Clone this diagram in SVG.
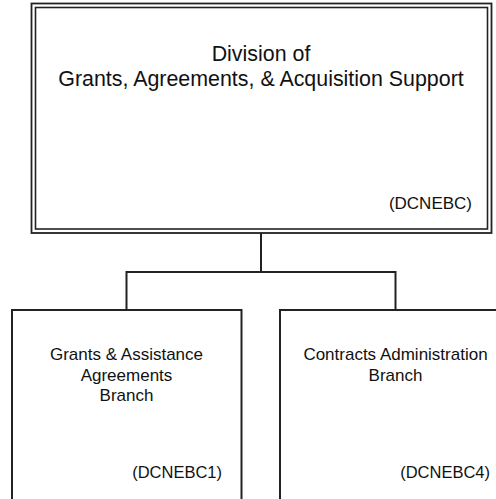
<svg xmlns="http://www.w3.org/2000/svg" width="496" height="499" viewBox="0 0 496 499">
<style>
  .box { fill: #fff; stroke: #222; stroke-width: 2; }
  .dbl { fill: none; stroke: #222; stroke-width: 1.6; }
  .conn { fill: none; stroke: #222; stroke-width: 2; }
  text { font-family: "Liberation Sans", Arial, sans-serif; fill: #111; }
  .t1 { font-size: 21.4px; text-anchor: middle; }
  .t2 { font-size: 17px; text-anchor: middle; }
  .code1 { font-size: 17px; text-anchor: end; }
  .code2 { font-size: 16.5px; text-anchor: end; }
</style>
<rect width="496" height="499" fill="#fff"/>
<g id="connectors">
  <path class="conn" d="M261,233 V272 M126.5,310 V272 H395.5 V310"/>
</g>
<g id="division">
  <rect x="31.5" y="3.5" width="460" height="229.5" fill="#fff" stroke="#222" stroke-width="1.8"/>
  <rect class="dbl" x="35.5" y="7.5" width="452" height="221.5"/>
  <text class="t1" x="261" y="61">Division of</text>
  <text class="t1" x="261" y="86">Grants, Agreements, &amp; Acquisition Support</text>
  <text class="code1" x="472" y="209">(DCNEBC)</text>
</g>
<g id="branch1">
  <rect class="box" x="12" y="310" width="229.5" height="200"/>
  <text class="t2" x="126.5" y="360">Grants &amp; Assistance</text>
  <text class="t2" x="126.5" y="380.5">Agreements</text>
  <text class="t2" x="126.5" y="401">Branch</text>
  <text class="code2" x="222" y="478">(DCNEBC1)</text>
</g>
<g id="branch4">
  <rect class="box" x="280" y="310" width="231" height="200"/>
  <text class="t2" x="395.5" y="360">Contracts Administration</text>
  <text class="t2" x="395.5" y="380.5">Branch</text>
  <text class="code2" x="490" y="478">(DCNEBC4)</text>
</g>
</svg>
